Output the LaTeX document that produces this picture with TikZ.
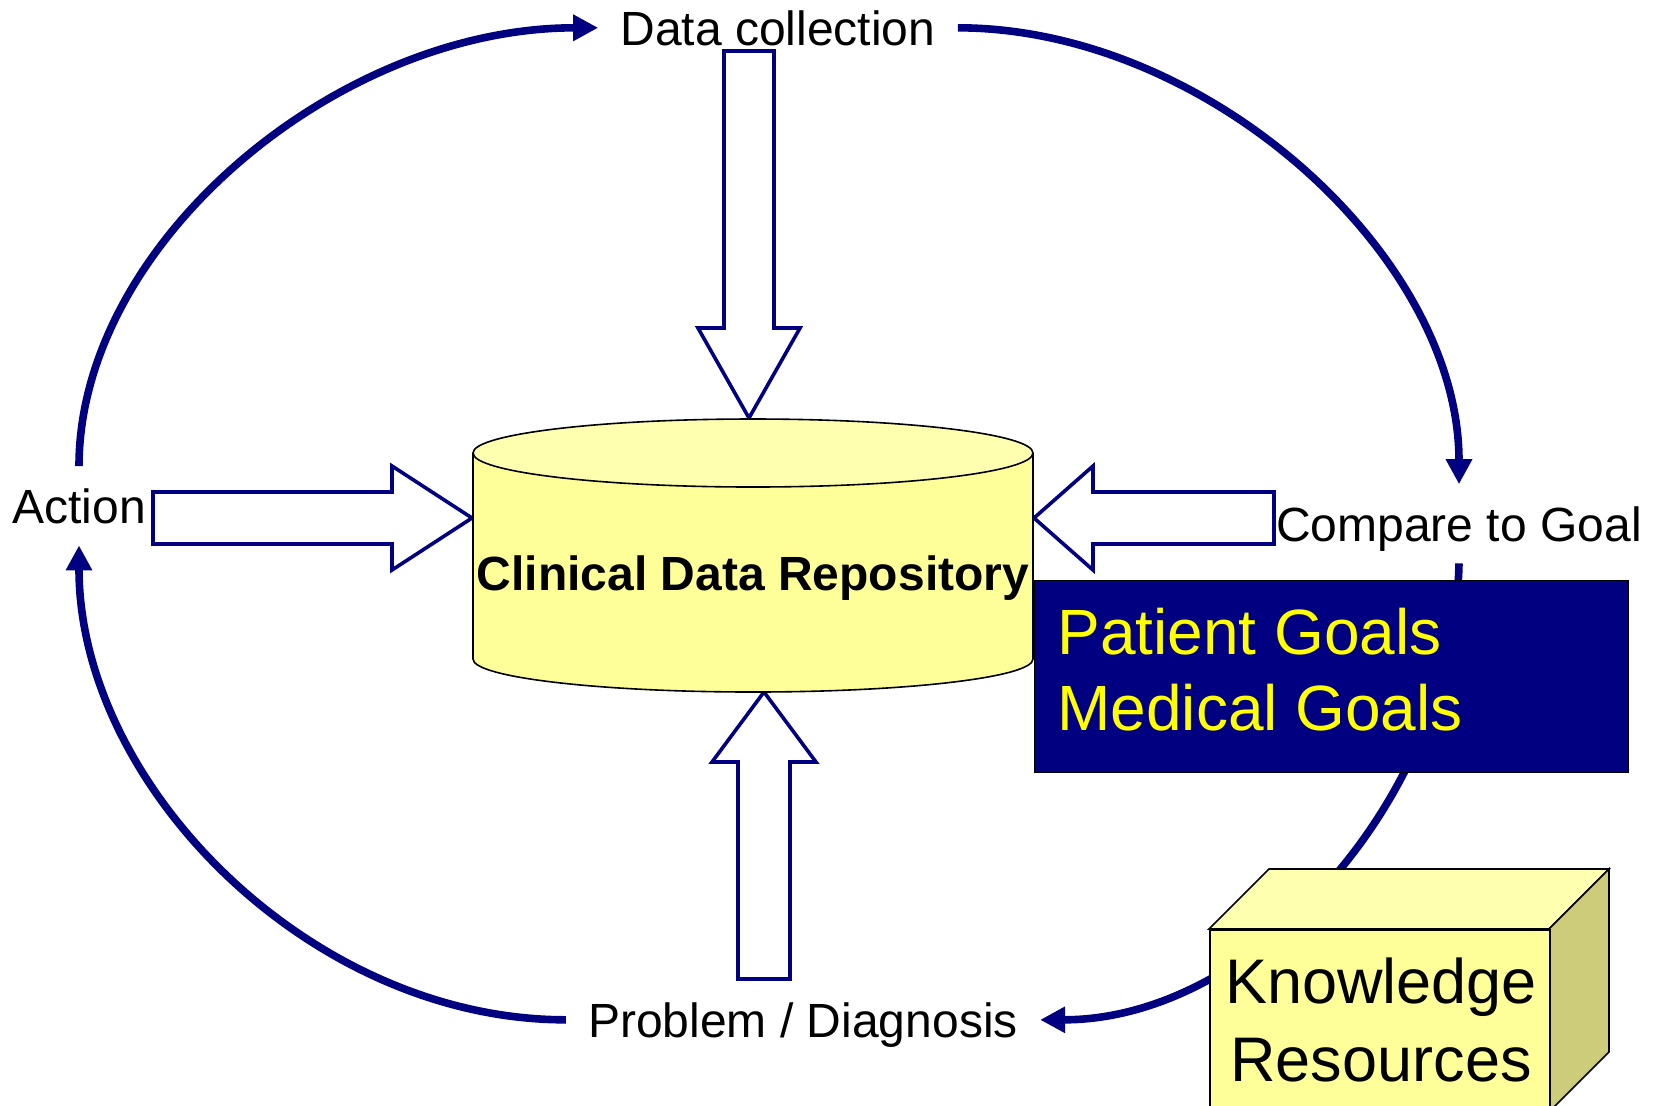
\documentclass[tikz,border=0pt]{standalone}
\usepackage{fontspec}
\setmainfont{Liberation Sans}
\usetikzlibrary{arrows.meta,calc}
\definecolor{navy}{RGB}{0,0,128}
\definecolor{cylbody}{HTML}{FFFF99}
\definecolor{cyltop}{HTML}{FFFFB0}
\definecolor{sideface}{HTML}{CCCC7A}
\definecolor{goalyellow}{HTML}{FFFF00}
\begin{document}
\begin{tikzpicture}[x=0.5pt,y=-0.5pt,
  lbl/.style={font=\fontsize{24}{28}\selectfont, inner xsep=11pt, inner ysep=11pt,
              text height=17.2pt, text depth=0pt, anchor=base},
  loopline/.style={draw=navy, line width=3.8pt, -{Triangle[length=12.5pt,width=12.5pt]}},
  blockarrow/.style={draw=navy, line width=1.8pt, fill=white, line join=miter},
  solidline/.style={draw=black, line width=0.8pt},
  goaltxt/.style={anchor=base west, inner sep=0pt, text=goalyellow, font=\fontsize{32}{38}\selectfont},
  krtxt/.style={anchor=base, inner sep=0pt, text=black, font=\fontsize{31.5}{38}\selectfont},
]
\clip (0,0) rectangle (1660,1105);
\fill[white] (0,0) rectangle (1660,1105);

% labels
\node[lbl] (datacoll) at (778,45) {Data collection};
\node[lbl] (action) at (79,523) {Action};
\node[lbl] (compare) at (1459,541) {Compare to Goal};
\node[lbl] (problem) at (803,1037) {Problem / Diagnosis};

% cycle connectors
\draw[loopline] (action.north) .. controls +(0,-222) and +(-262,0) .. (datacoll.west);
\draw[loopline] (datacoll.east) .. controls +(250,0) and +(0,-228) .. (compare.north);
\draw[loopline] (compare.south) .. controls +(-5,235) and +(215,0) .. (problem.east);
\draw[loopline] (problem.west) .. controls +(-255,0) and +(0,240) .. (action.south);

% block arrows
\draw[blockarrow] (724,51) -- (774,51) -- (774,328) -- (800,328) -- (749,418) -- (698,328) -- (724,328) -- cycle;
\draw[blockarrow] (153,492) -- (392,492) -- (392,466) -- (472,518) -- (392,570) -- (392,544) -- (153,544) -- cycle;
\draw[blockarrow] (1274,492) -- (1093,492) -- (1093,466) -- (1034,518) -- (1093,570) -- (1093,544) -- (1274,544) -- cycle;
\draw[blockarrow] (738,979) -- (790,979) -- (790,762) -- (816,762) -- (764,692) -- (712,762) -- (738,762) -- cycle;

% cylinder
\fill[cylbody] (473,453) -- (473,659) arc[start angle=180,end angle=360,x radius=140pt,y radius=16.5pt] -- (1033,453) -- cycle;
\draw[solidline] (473,453) -- (473,659) arc[start angle=180,end angle=360,x radius=140pt,y radius=16.5pt] -- (1033,453);
\draw[solidline, fill=cyltop] (753,453) ellipse [x radius=140pt, y radius=17pt];
\node[anchor=base, inner sep=0pt, font=\bfseries\fontsize{24}{28}\selectfont] (cdr) at (753,590) {Clinical Data Repository};

% goals box
\node[draw=black, line width=0.6pt, fill=navy, minimum width=297pt, minimum height=96pt,
      inner sep=0pt, anchor=north west] (goals) at (1034,580) {};
\node[goaltxt] (pg) at (1057,654) {Patient Goals};
\node[goaltxt] (mg) at (1057,730) {Medical Goals};

% knowledge resources cube
\filldraw[solidline, fill=cyltop] (1209,929) -- (1269,869) -- (1609,869) -- (1549,929) -- cycle;
\filldraw[solidline, fill=sideface] (1549,929) -- (1609,869) -- (1609,1052) -- (1549,1112) -- cycle;
\node[solidline, fill=cylbody, minimum width=170pt, minimum height=100pt,
      inner sep=0pt, anchor=north west] (kr) at (1209,929) {};
\node[krtxt] (k1) at (1381,1003) {Knowledge};
\node[krtxt] (k2) at (1381,1081) {Resources};
\end{tikzpicture}
\end{document}
